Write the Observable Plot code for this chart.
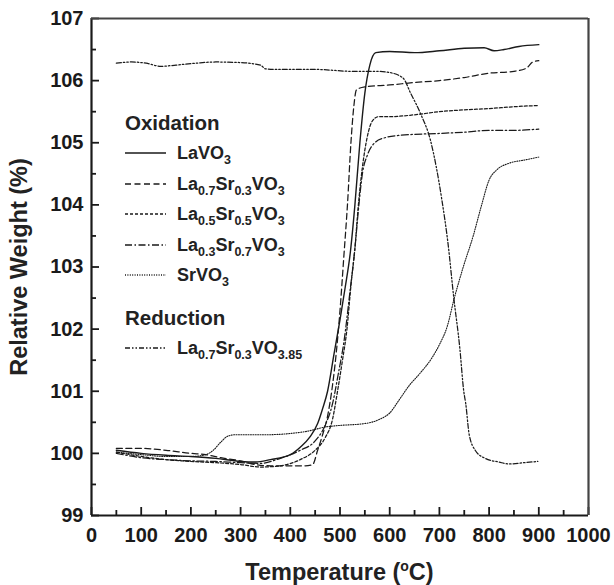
<!DOCTYPE html>
<html>
<head>
<meta charset="utf-8">
<script src="https://cdn.jsdelivr.net/npm/d3@7"></script>
<script src="https://cdn.jsdelivr.net/npm/@observablehq/plot@0.6"></script>
<style>
  html, body { margin: 0; padding: 0; background: #fff; }
  #wrap { position: relative; width: 614px; height: 585px; font-family: "Liberation Sans", Arial, sans-serif; font-weight: bold; color: #222; overflow: hidden; }
  #wrap > svg { position: absolute; left: 0; top: 0; }
  .ov { position: absolute; white-space: nowrap; line-height: 1; }
  .ov sub, .row sub { font-size: 12.5px; vertical-align: -5px; line-height: 0; }
  .ov sup { font-size: 14px; vertical-align: 9px; line-height: 0; }
  .row { position: absolute; left: 125px; white-space: nowrap; font-size: 18px; line-height: 1; display: flex; align-items: center; height: 18px; }
  #wrap .row svg { position: static; margin-right: 11px; flex: none; }
</style>
</head>
<body>
<div id="wrap"></div>
<script>
// ---- data (temperature °C, relative weight %) ----
const laVO3 = [[50,100.05],[100,100.0],[150,99.97],[200,99.95],[250,99.92],[300,99.87],[330,99.86],[360,99.9],[400,99.98],[420,100.1],[440,100.27],[455,100.48],[465,100.72],[475,101.0],[488,101.6],[500,102.15],[510,102.65],[521,103.25],[530,104.0],[540,105.0],[550,105.8],[560,106.25],[572,106.45],[600,106.47],[650,106.45],[700,106.48],[750,106.52],[790,106.53],[810,106.48],[830,106.5],[860,106.55],[900,106.58]];
const la7sr3 = [[50,100.08],[100,100.08],[150,100.05],[200,100.0],[230,99.98],[260,99.93],[300,99.88],[330,99.82],[360,99.8],[400,99.8],[430,99.8],[445,99.82],[455,100.05],[465,100.3],[475,100.6],[485,101.1],[493,101.66],[500,102.3],[508,103.2],[515,104.0],[522,105.0],[528,105.6],[533,105.85],[550,105.9],[600,105.93],[650,105.97],[700,106.0],[750,106.05],[800,106.12],[850,106.15],[875,106.2],[888,106.3],[900,106.32]];
const la5sr5 = [[50,100.02],[100,99.95],[150,99.9],[200,99.87],[250,99.85],[300,99.82],[340,99.78],[380,99.8],[420,99.9],[450,100.05],[470,100.25],[485,100.55],[495,101.0],[505,101.5],[514,102.0],[522,102.7],[530,103.3],[537,104.0],[545,104.6],[555,105.1],[565,105.35],[578,105.42],[600,105.42],[650,105.45],[700,105.5],[750,105.53],[800,105.55],[850,105.58],[900,105.6]];
const la3sr7 = [[50,100.0],[100,99.93],[150,99.9],[200,99.88],[250,99.87],[300,99.85],[340,99.84],[380,99.92],[420,100.05],[450,100.2],[470,100.45],[485,100.8],[497,101.3],[508,101.8],[520,102.6],[530,103.3],[538,104.0],[545,104.5],[555,104.8],[570,105.0],[590,105.08],[620,105.12],[700,105.15],[750,105.17],[800,105.2],[850,105.2],[900,105.22]];
const srVO3 = [[50,100.02],[100,99.98],[150,99.95],[200,99.95],[230,99.98],[245,100.05],[260,100.18],[275,100.28],[290,100.3],[350,100.3],[400,100.32],[430,100.35],[475,100.43],[500,100.45],[550,100.48],[580,100.55],[600,100.65],[619,100.86],[640,101.1],[660,101.28],[686,101.55],[700,101.75],[716,102.05],[730,102.5],[748,103.0],[768,103.5],[785,104.0],[800,104.4],[815,104.56],[840,104.67],[870,104.72],[900,104.77]];
const redLa7sr3 = [[50,106.28],[80,106.3],[110,106.28],[140,106.23],[170,106.25],[210,106.28],[250,106.3],[300,106.29],[340,106.25],[350,106.19],[380,106.18],[450,106.18],[525,106.15],[572,106.15],[600,106.13],[627,106.04],[642,105.8],[662,105.47],[682,105.04],[705,104.08],[717,103.4],[729,102.5],[741,101.7],[749,101.0],[753,100.8],[760,100.3],[772,100.05],[792,99.92],[820,99.86],[839,99.83],[870,99.85],[898,99.87]];

const seriesData = [laVO3, la7sr3, la5sr5, la3sr7, srVO3, redLa7sr3];
const seriesDash = ["none", "6,3.5", "3,2", "7,2.5,1.5,2.5", "1,1.4", "5,2,1.5,2,1.5,2"];
const seriesLabel = ["LaVO<sub>3</sub>", "La<sub>0.7</sub>Sr<sub>0.3</sub>VO<sub>3</sub>", "La<sub>0.5</sub>Sr<sub>0.5</sub>VO<sub>3</sub>", "La<sub>0.3</sub>Sr<sub>0.7</sub>VO<sub>3</sub>", "SrVO<sub>3</sub>", "La<sub>0.7</sub>Sr<sub>0.3</sub>VO<sub>3.85</sub>"];
const groupLabels = ["Oxidation", "Reduction"];

const xMajor = d3.range(0, 1001, 100);
const xMinor = d3.range(50, 1000, 100);
const yMajor = d3.range(99, 108, 1);
const yMinor = d3.range(99.5, 107, 1);
const xTitle = "Temperature (<sup>o</sup>C)";
const yTitle = "Relative Weight (%)";

const W = 614, H = 585, mL = 91, mR = 26, mT = 18, mB = 70;
const iW = W - mL - mR, iH = H - mT - mB;
const ink = "#1a1a1a";

const marks = [];
seriesData.forEach((s, i) => {
  marks.push(Plot.line(s, {x: d => d[0], y: d => d[1], stroke: ink,
    strokeWidth: i === 0 ? 1.4 : (i === 4 ? 1.1 : 1.25),
    strokeDasharray: seriesDash[i] === "none" ? null : seriesDash[i], curve: "monotone-x"}));
});
marks.push(
  Plot.ruleX(xMajor, {x: d => d, stroke: ink, strokeWidth: 1.8, insetTop: iH - 8}),
  Plot.ruleX(xMinor, {x: d => d, stroke: ink, strokeWidth: 1.8, insetTop: iH - 5}),
  Plot.ruleY(yMajor, {y: d => d, stroke: ink, strokeWidth: 1.8, insetRight: iW - 8}),
  Plot.ruleY(yMinor, {y: d => d, stroke: ink, strokeWidth: 1.8, insetRight: iW - 5}),
  Plot.ruleX([0], {stroke: ink, strokeWidth: 2.2}),
  Plot.ruleY([99], {stroke: ink, strokeWidth: 2.2}),
  Plot.ruleX([1000], {stroke: "#444", strokeWidth: 2.2}),
  Plot.ruleY([107], {stroke: "#444", strokeWidth: 2.2}),
  Plot.axisX({ticks: xMajor, tickSize: 0, tickPadding: 12, tickFormat: d => String(d), label: null}),
  Plot.axisY({ticks: yMajor, tickSize: 0, tickPadding: 8, tickFormat: d => String(d), label: null})
);

const chart = Plot.plot({
  width: W, height: H,
  marginLeft: mL, marginRight: mR, marginTop: mT, marginBottom: mB,
  x: {domain: [0, 1000]},
  y: {domain: [99, 107]},
  style: {fontFamily: "'Liberation Sans', Arial, sans-serif", fontSize: "20px", fontWeight: "bold", color: ink, background: "white", overflow: "visible"},
  marks
});

const wrap = document.getElementById("wrap");
wrap.appendChild(chart);

function add(html, css) {
  const d = document.createElement("div");
  d.className = "ov";
  d.innerHTML = html;
  Object.assign(d.style, css);
  wrap.appendChild(d);
  return d;
}
// axis titles
add(xTitle, {left: (mL + iW / 2) + "px", top: "573px", transform: "translate(-50%,-50%)", fontSize: "23.5px"});
add(yTitle, {left: "20px", top: (mT + iH / 2) + "px", transform: "translate(-50%,-50%) rotate(-90deg)", fontSize: "23.5px"});

// legend
const rowY = [153, 184, 214, 245, 275, 348];
add(groupLabels[0], {left: "125px", top: "123px", transform: "translateY(-50%)", fontSize: "20.5px"});
add(groupLabels[1], {left: "125px", top: "318px", transform: "translateY(-50%)", fontSize: "20.5px"});
seriesLabel.forEach((lab, i) => {
  const r = document.createElement("div");
  r.className = "row";
  r.style.top = (rowY[i] - 9) + "px";
  const dash = seriesDash[i] === "none" ? "" : `stroke-dasharray="${seriesDash[i]}"`;
  r.innerHTML = `<svg width="41" height="18"><line x1="0" x2="41" y1="9" y2="9" stroke="${ink}" stroke-width="1.3" ${dash}/></svg><span>${lab}</span>`;
  wrap.appendChild(r);
});
</script>
</body>
</html>
